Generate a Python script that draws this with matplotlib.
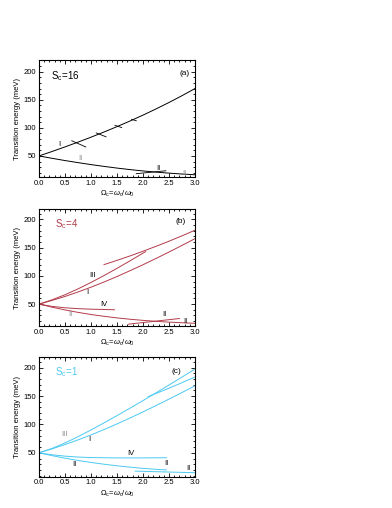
import numpy as np
import matplotlib
matplotlib.use("Agg")
import matplotlib.pyplot as plt
from matplotlib.ticker import MultipleLocator

plt.rcParams['font.family'] = ['Liberation Sans', 'DejaVu Sans']
plt.rcParams['mathtext.fontset'] = 'custom'
plt.rcParams['mathtext.rm'] = 'Liberation Sans'
plt.rcParams['mathtext.it'] = 'Liberation Sans:italic'

# common x grid (Omega_c)
omega = [0.0, 0.25, 0.5, 0.75, 1.0, 1.25, 1.5, 1.75, 2.0, 2.25, 2.5, 2.75, 3.0]

# ---- panel (a), S_c = 16
a_I = [50, 57.9, 66.1, 74.6, 83.4, 92.6, 102.2, 112.2, 122.7, 133.7, 145.2, 157.3, 170]
a_II = [50, 45.8, 41.8, 38.1, 34.6, 31.4, 28.4, 25.7, 23.3, 21.2, 19.4, 17.8, 16.5]
# short anticrossing pieces
a_marks_x = [[0.63, 0.90], [1.10, 1.29], [1.46, 1.59], [1.78, 1.87], [1.87, 2.44]]
a_marks_y = [[77, 66], [91, 84], [104.5, 100.5], [115, 112.7], [18.4, 23.6]]

# ---- panel (b), S_c = 4
b_I = [50, 56.5, 63.6, 71.5, 80, 89.2, 98.9, 109.2, 119.8, 130.9, 142.3, 154.1, 166]
b_III_x = [0.0, 0.25, 0.5, 0.75, 1.0, 1.25, 1.5, 1.75, 2.05]
b_III = [50, 57.6, 66.6, 77, 88.4, 100.6, 113.4, 126.7, 143]
b_V_x = [1.25, 1.5, 1.75, 2.0, 2.25, 2.5, 2.75, 3.0]
b_V = [120, 127.5, 135.4, 143.7, 152.4, 161.5, 171, 181]
b_IV_x = [0.0, 0.25, 0.5, 0.75, 1.0, 1.25, 1.45]
b_IV = [50, 46, 43.5, 42, 41, 40.5, 40]
b_II = [50, 44.6, 39.7, 35.4, 31.6, 28.4, 25.6, 23.2, 21.2, 19.5, 18.1, 17, 16]
b_seg_x = [1.72, 2.7]
b_seg = [14.5, 24.5]

# ---- panel (c), S_c = 1
c_I = [50, 57, 64.6, 72.8, 81.6, 91, 100.9, 111.3, 122.1, 133.2, 144.6, 156.2, 168]
c_III = [50, 57.8, 67.4, 78.4, 90.3, 102.7, 115.5, 128.6, 142, 155.6, 169.4, 183.4, 197.5]
c_V_x = [2.1, 2.4, 2.7, 3.0]
c_V = [149, 160, 171.5, 183.5]
c_IV_x = [0.0, 0.25, 0.5, 0.75, 1.0, 1.5, 2.0, 2.45]
c_IV = [50, 46.6, 44.2, 42.6, 41.7, 41.1, 41.1, 41.4]
c_II_x = [0.0, 0.25, 0.5, 0.75, 1.0, 1.25, 1.5, 1.75, 2.0, 2.25, 2.45]
c_II = [50, 45.1, 40.6, 36.6, 33.1, 30, 27.2, 24.8, 22.7, 21, 19.9]
c_seg_x = [1.85, 3.0]
c_seg = [17.8, 15.0]

red = '#b33b4a'
blue = '#4cc9f2'
gray = '#8a8a8a'


def style_axis(ax, ylim):
    ax.set_xlim(0, 3.0)
    ax.set_ylim(*ylim)
    ax.xaxis.set_major_locator(MultipleLocator(0.5))
    ax.xaxis.set_minor_locator(MultipleLocator(0.1))
    ax.yaxis.set_major_locator(MultipleLocator(50))
    ax.yaxis.set_minor_locator(MultipleLocator(10))
    ax.tick_params(which='both', direction='in', top=True, right=True,
                   labelsize=5.5, width=0.6, pad=2)
    ax.tick_params(which='major', length=3)
    ax.tick_params(which='minor', length=1.6)
    for s in ax.spines.values():
        s.set_linewidth(0.8)
    ax.set_ylabel('Transition energy (meV)', fontsize=5.5, labelpad=2)
    ax.set_xlabel(r'$\Omega_{\mathrm{c}}$=$\omega_{\mathrm{c}}$/$\omega_{\mathrm{0}}$',
                  fontsize=5.5, labelpad=1.5)


fig = plt.figure(figsize=(3.92, 5.08), dpi=100)
lw = 0.7

# panel (a)
ax = fig.add_axes([0.0995, 0.651, 0.398, 0.230])
ax.plot(omega, a_I, color='k', lw=lw)
ax.plot(omega, a_II, color='k', lw=lw)
for xs, ys in zip(a_marks_x, a_marks_y):
    ax.plot(xs, ys, color='k', lw=0.6)
ax.text(0.4, 70, 'I', fontsize=5.5, ha='center', va='center')
ax.text(0.8, 45, 'II', fontsize=5.5, ha='center', va='center', color=gray)
ax.text(2.3, 28, 'II', fontsize=5.5, ha='center', va='center')
ax.text(2.8, 19, 'II', fontsize=5.5, ha='center', va='center', color=gray)
ax.text(0.24, 193, r'S$_{\mathrm{c}}$=16', fontsize=7, ha='left', va='center')
ax.text(2.8, 196, '(a)', fontsize=6, ha='center', va='center')
style_axis(ax, (12, 220))

# panel (b)
ax = fig.add_axes([0.0995, 0.358, 0.398, 0.230])
for xs, ys in [(omega, b_I), (b_III_x, b_III), (b_V_x, b_V), (b_IV_x, b_IV),
               (omega, b_II), (b_seg_x, b_seg)]:
    ax.plot(xs, ys, color=red, lw=lw)
ax.text(1.03, 101, 'III', fontsize=5.5, ha='center', va='center')
ax.text(0.93, 71, 'I', fontsize=5.5, ha='center', va='center')
ax.text(1.25, 49.5, 'IV', fontsize=5.5, ha='center', va='center')
ax.text(0.6, 31, 'II', fontsize=5.5, ha='center', va='center', color=gray)
ax.text(2.41, 31, 'II', fontsize=5.5, ha='center', va='center')
ax.text(2.81, 20, 'II', fontsize=5.5, ha='center', va='center')
ax.text(0.3, 191, r'S$_{\mathrm{c}}$=4', fontsize=7, ha='left', va='center', color=red)
ax.text(2.72, 196, '(b)', fontsize=6, ha='center', va='center')
style_axis(ax, (11, 218))

# panel (c)
ax = fig.add_axes([0.0995, 0.0616, 0.398, 0.236])
for xs, ys in [(omega, c_I), (omega, c_III), (c_V_x, c_V), (c_IV_x, c_IV),
               (c_II_x, c_II), (c_seg_x, c_seg)]:
    ax.plot(xs, ys, color=blue, lw=lw)
ax.text(0.49, 83, 'III', fontsize=5.5, ha='center', va='center', color=gray)
ax.text(0.96, 73, 'I', fontsize=5.5, ha='center', va='center')
ax.text(1.76, 49, 'IV', fontsize=5.5, ha='center', va='center')
ax.text(0.68, 30, 'II', fontsize=5.5, ha='center', va='center')
ax.text(2.44, 31, 'II', fontsize=5.5, ha='center', va='center')
ax.text(2.87, 23, 'II', fontsize=5.5, ha='center', va='center')
ax.text(0.3, 192, r'S$_{\mathrm{c}}$=1', fontsize=7, ha='left', va='center', color=blue)
ax.text(2.65, 194, '(c)', fontsize=6, ha='center', va='center')
style_axis(ax, (8, 219))

fig.savefig('out.png', dpi=100)
